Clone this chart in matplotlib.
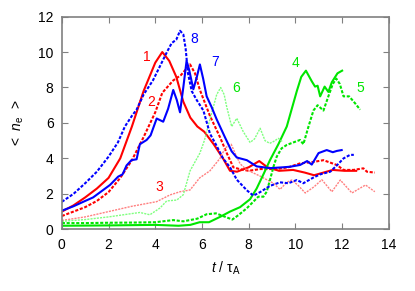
import matplotlib
matplotlib.use("Agg")
import matplotlib.pyplot as plt

plt.rcParams['font.family'] = ['Liberation Sans', 'DejaVu Sans']
plt.rcParams['mathtext.fontset'] = 'custom'
plt.rcParams['mathtext.rm'] = 'Liberation Sans'
plt.rcParams['mathtext.it'] = 'Liberation Sans:italic'
plt.rcParams['mathtext.default'] = 'regular'

# curve 1: red solid
t1 = [0, 0.5, 1, 1.5, 2, 2.5, 3, 3.5, 4, 4.3, 4.6, 4.9, 5.2, 5.5, 5.8, 6.1, 6.5, 6.9, 7.2, 7.5, 8, 8.45, 8.8, 9.3, 9.9, 10.4, 10.8, 11.2, 11.6, 12.1, 12.6]
n1 = [1.0, 1.35, 1.8, 2.3, 2.9, 4.0, 5.8, 7.8, 9.4, 10.0, 9.5, 8.6, 7.2, 6.3, 5.8, 5.5, 4.8, 4.0, 3.3, 3.25, 3.5, 3.85, 3.5, 3.3, 3.35, 3.2, 3.05, 3.2, 3.35, 3.3, 3.3]
# curve 2: red dashed
t2 = [0, 0.5, 1, 1.5, 2, 2.5, 3, 3.5, 4, 4.3, 4.77, 5.1, 5.49, 5.7, 5.9, 6.34, 6.77, 7.06, 7.34, 7.6, 8.0, 8.5, 9.2, 9.7, 10.2, 10.77, 11.2, 11.77, 12.06, 12.49, 12.91, 13.06, 13.4]
n2 = [0.75, 1.0, 1.25, 1.6, 2.1, 2.9, 3.9, 5.2, 6.6, 7.7, 8.4, 8.7, 9.3, 8.8, 7.9, 6.4, 5.2, 4.3, 3.5, 3.4, 3.3, 3.4, 3.4, 3.5, 3.72, 3.8, 3.9, 3.63, 3.35, 3.35, 3.44, 3.25, 3.2]
# curve 3: light red dashed
t3 = [0, 1, 2, 3, 4.06, 4.63, 5.06, 5.49, 5.9, 6.34, 6.77, 7.0, 7.25, 7.45, 7.63, 7.92, 8.49, 8.77, 9.06, 9.34, 9.63, 9.84, 10.1, 10.42, 10.8, 11.13, 11.56, 11.92, 12.42, 13.0, 13.4]
n3 = [0.5, 0.7, 1.0, 1.3, 1.56, 1.94, 2.12, 2.22, 2.9, 3.3, 4.0, 4.6, 4.8, 4.2, 3.7, 3.35, 3.0, 2.8, 2.6, 2.25, 2.65, 2.78, 2.5, 2.05, 2.4, 2.8, 2.12, 2.78, 2.05, 2.5, 2.12]
# curve 4: green solid
t4 = [0, 2, 4, 5.0, 5.5, 5.9, 6.3, 6.77, 7.2, 7.63, 8.06, 8.34, 8.63, 8.91, 9.27, 9.63, 10.06, 10.25, 10.45, 10.7, 10.84, 10.95, 11.06, 11.25, 11.41, 11.56, 11.8, 12.0]
n4 = [0.2, 0.22, 0.25, 0.2, 0.25, 0.4, 0.4, 0.7, 1.0, 1.25, 1.7, 2.3, 3.1, 3.9, 4.8, 5.8, 7.8, 8.6, 8.95, 8.35, 8.05, 8.1, 7.5, 8.05, 7.75, 8.3, 8.8, 8.95]
# curve 5: green dashed
t5 = [0, 1, 2, 3, 4, 4.77, 5.2, 5.8, 6.2, 6.6, 7.0, 7.3, 7.56, 7.92, 8.2, 8.41, 8.63, 8.77, 8.91, 9.06, 9.2, 9.41, 9.63, 9.99, 10.2, 10.34, 10.56, 10.77, 10.95, 11.2, 11.41, 11.6, 11.75, 11.9, 12.06, 12.3, 12.56, 12.77]
n5 = [0.35, 0.35, 0.37, 0.38, 0.4, 0.52, 0.45, 0.6, 0.85, 0.9, 0.7, 0.55, 0.8, 1.19, 1.56, 1.84, 1.84, 2.12, 2.78, 3.53, 4.1, 4.57, 4.76, 4.94, 5.04, 4.8, 5.8, 6.7, 7.0, 6.7, 7.5, 8.2, 8.5, 8.2, 7.5, 7.5, 7.1, 6.75]
# curve 6: light green dashed
t6 = [0, 1, 2, 2.8, 3.34, 3.77, 4.2, 4.49, 4.92, 5.2, 5.49, 5.91, 6.1, 6.34, 6.63, 6.8, 6.95, 7.06, 7.27, 7.49, 7.77, 8.06, 8.25, 8.49, 8.7, 8.9, 9.06, 9.27, 9.45]
n6 = [0.45, 0.55, 0.7, 0.85, 0.95, 0.82, 1.2, 1.6, 1.65, 1.95, 3.3, 4.3, 5.0, 6.2, 7.6, 8.0, 7.6, 6.9, 5.8, 6.26, 5.5, 4.9, 5.1, 5.7, 5.0, 4.85, 4.95, 5.13, 4.94]
# curve 7: blue solid
t7 = [0, 0.5, 1.0, 1.34, 1.7, 2.06, 2.41, 2.6, 2.77, 2.98, 3.2, 3.34, 3.63, 3.8, 4.06, 4.34, 4.55, 4.77, 4.92, 5.06, 5.2, 5.34, 5.45, 5.63, 5.78, 5.91, 6.05, 6.2, 6.41, 6.63, 6.98, 7.27, 7.49, 7.92, 8.34, 8.91, 9.49, 9.77, 10.2, 10.5, 10.7, 10.99, 11.34, 11.6, 11.77, 11.98]
n7 = [1.05, 1.3, 1.6, 1.8, 2.15, 2.5, 2.97, 3.1, 3.6, 3.9, 3.95, 4.8, 5.04, 5.3, 6.25, 6.07, 6.8, 7.86, 7.3, 6.6, 8.0, 9.5, 9.0, 7.9, 8.6, 9.3, 8.5, 7.5, 6.9, 6.2, 5.2, 4.4, 4.05, 3.9, 3.55, 3.45, 3.5, 3.53, 3.63, 3.85, 3.65, 4.3, 4.47, 4.35, 4.42, 4.47]
# curve 8: blue dashed
t8 = [0, 0.5, 1.0, 1.5, 2.0, 2.4, 2.7, 3.0, 3.2, 3.5, 3.9, 4.2, 4.5, 4.7, 4.9, 5.06, 5.2, 5.3, 5.4, 5.56, 5.77, 6.06, 6.34, 6.63, 6.9, 7.2, 7.49, 7.92, 8.2, 8.49, 8.91, 9.34, 9.7, 10.06, 10.34, 10.77, 11.06, 11.49, 11.77, 12.06, 12.34, 12.5]
n8 = [1.55, 2.0, 2.6, 3.25, 4.1, 4.9, 5.8, 6.4, 6.75, 7.6, 8.4, 9.2, 10.0, 10.5, 10.7, 11.2, 11.0, 10.2, 8.8, 7.8, 7.3, 6.7, 5.4, 4.7, 4.0, 3.5, 2.8, 2.2, 1.9, 2.1, 2.45, 2.65, 2.6, 2.78, 2.6, 2.92, 3.1, 3.25, 3.6, 4.0, 4.2, 4.2]

labels = ['1', '2', '3', '4', '5', '6', '7', '8']
label_t = [3.63, 3.84, 4.17, 10.0, 12.77, 7.46, 6.56, 5.67]
label_n = [9.74, 7.2, 2.41, 9.37, 7.96, 7.96, 9.46, 10.72]

xticks = [0, 2, 4, 6, 8, 10, 12, 14]
yticks = [0, 2, 4, 6, 8, 10, 12]

RED, PINK = '#ff0000', '#ff8080'
GREEN, LGREEN = '#00e600', '#80ff80'
BLUE = '#0000ff'
dash = (0, (1.5, 0.8))

fig = plt.figure(figsize=(4.15, 2.91), dpi=100)
ax = fig.add_axes([0.149, 0.212, 0.788, 0.731])

series = [
    (t1, n1, RED, '-', 1.5),
    (t2, n2, RED, dash, 1.5),
    (t3, n3, PINK, dash, 1.0),
    (t4, n4, GREEN, '-', 1.5),
    (t5, n5, GREEN, dash, 1.5),
    (t6, n6, LGREEN, dash, 1.0),
    (t7, n7, BLUE, '-', 1.5),
    (t8, n8, BLUE, dash, 1.5),
]
for t, n, c, ls, lw in series:
    ax.plot(t, n, color=c, linestyle=ls, linewidth=lw)

label_colors = [RED, RED, RED, GREEN, GREEN, GREEN, BLUE, BLUE]
for s, x, y, c in zip(labels, label_t, label_n, label_colors):
    ax.text(x, y, s, color=c, fontsize=10, ha='center', va='center')

ax.set_xlim(0, 14)
ax.set_ylim(0, 12)
ax.set_xticks(xticks)
ax.set_yticks(yticks)
ax.tick_params(direction='in', length=4, width=0.8, color='#808080',
               top=True, right=True, labelsize=10, pad=6)
for sp in ax.spines.values():
    sp.set_color('#808080')
    sp.set_linewidth(1.2)

ax.set_xlabel(r'$\mathit{t}$ / $\tau_{\rm A}$', fontsize=10, labelpad=6)
ax.set_ylabel(r'<  $\mathit{n}_{\rm e}$  >', fontsize=10, labelpad=9)

fig.savefig('out.png', dpi=100)
